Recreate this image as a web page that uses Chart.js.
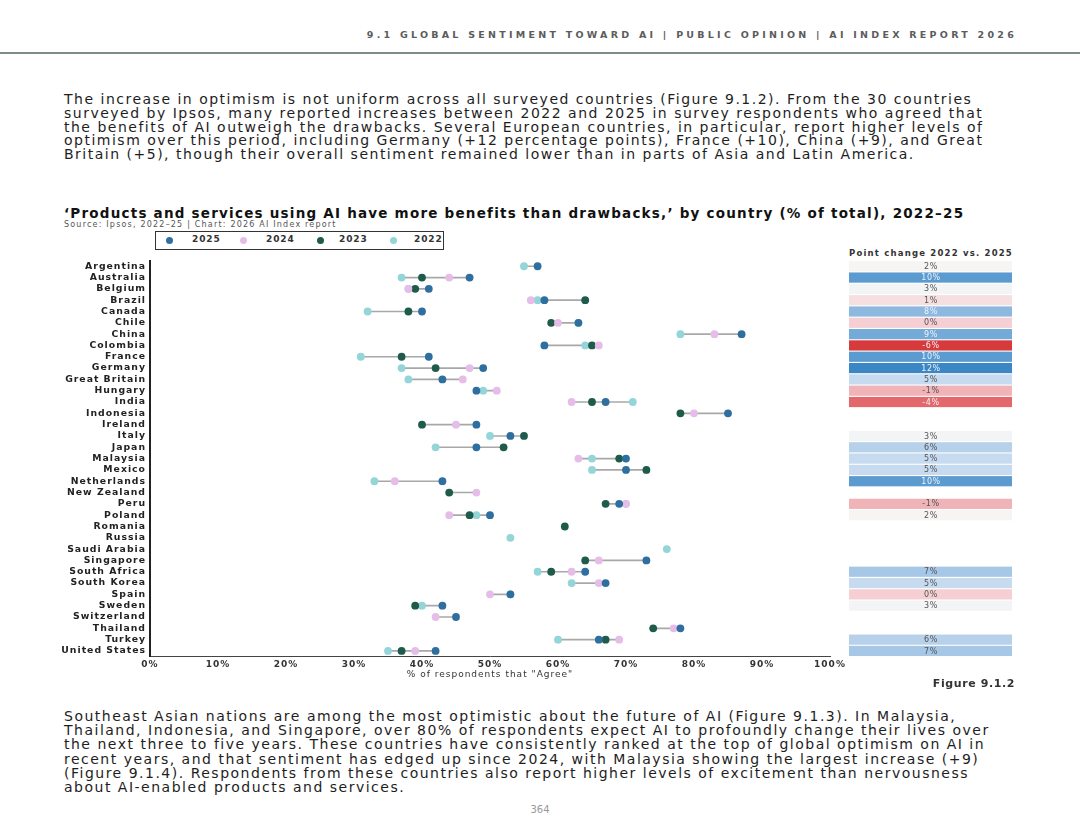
<!DOCTYPE html>
<html>
<head>
<meta charset="utf-8">
<title>AI benefits vs drawbacks by country</title>
<script src="https://cdn.jsdelivr.net/npm/chart.js@4.4.1/dist/chart.umd.min.js"></script>
<style>
body{margin:0;background:#fff;width:1080px;height:831px;position:relative;overflow:hidden;font-family:"DejaVu Sans",sans-serif;color:#222}
.abs{position:absolute;white-space:nowrap}
#header{right:63px;top:29px;font-size:9.5px;font-weight:bold;letter-spacing:3.25px;color:#5c5c5c}
#rule{left:0;top:52px;width:1080px;height:2px;background:#7d8c8a}
.para{left:64px;font-size:14px;line-height:13.75px;letter-spacing:1.5px;color:#1e1e1e}
#title{left:64px;top:205px;font-size:13.5px;font-weight:bold;letter-spacing:1.22px;color:#111}
#source{left:64px;top:220px;font-size:8px;letter-spacing:1.2px;color:#555}
#legend{left:155px;top:231px;width:287px;height:17px;border:1.5px solid #333}
.lg{position:absolute;top:2px;font-size:9px;font-weight:bold;color:#333;letter-spacing:0.9px}
.dot{position:absolute;top:5px;width:7px;height:7px;border-radius:50%}
#tblhead{left:846px;width:170px;top:248px;text-align:center;font-size:8.5px;font-weight:bold;letter-spacing:1.2px;color:#333}
#fig{right:65px;top:677px;font-size:11px;font-weight:bold;color:#333;letter-spacing:0.6px}
#page{left:0;width:1080px;top:804px;text-align:center;font-size:10px;color:#999}
#wrap{position:absolute;left:0;top:251px;width:1080px;height:437px}
</style>
</head>
<body>

<div class="abs" id="header">9.1 GLOBAL SENTIMENT TOWARD AI | PUBLIC OPINION | AI INDEX REPORT 2026</div>
<div class="abs" id="rule"></div>

<div class="abs para" style="top:93px">The increase in optimism is not uniform across all surveyed countries (Figure 9.1.2). From the 30 countries<br>surveyed by Ipsos, many reported increases between 2022 and 2025 in survey respondents who agreed that<br>the benefits of AI outweigh the drawbacks. Several European countries, in particular, report higher levels of<br>optimism over this period, including Germany (+12 percentage points), France (+10), China (+9), and Great<br>Britain (+5), though their overall sentiment remained lower than in parts of Asia and Latin America.</div>

<div class="abs" id="title">‘Products and services using AI have more benefits than drawbacks,’ by country (% of total), 2022–25</div>
<div class="abs" id="source">Source: Ipsos, 2022–25 | Chart: 2026 AI Index report</div>

<div class="abs" id="legend"></div>
<div class="abs" id="tblhead">Point change 2022 vs. 2025</div>

<div id="wrap"><canvas id="chart"></canvas></div>

<div class="abs" id="fig">Figure 9.1.2</div>

<div class="abs para" style="top:709px;line-height:14.2px">Southeast Asian nations are among the most optimistic about the future of AI (Figure 9.1.3). In Malaysia,<br>Thailand, Indonesia, and Singapore, over 80% of respondents expect AI to profoundly change their lives over<br>the next three to five years. These countries have consistently ranked at the top of global optimism on AI in<br>recent years, and that sentiment has edged up since 2024, with Malaysia showing the largest increase (+9)<br>(Figure 9.1.4). Respondents from these countries also report higher levels of excitement than nervousness<br>about AI-enabled products and services.</div>

<div class="abs" id="page">364</div>

<script>
/* =========================
   Data
========================= */

let countries = ["Argentina","Australia","Belgium","Brazil","Canada","Chile","China","Colombia","France","Germany",
"Great Britain","Hungary","India","Indonesia","Ireland","Italy","Japan","Malaysia","Mexico","Netherlands",
"New Zealand","Peru","Poland","Romania","Russia","Saudi Arabia","Singapore","South Africa","South Korea","Spain",
"Sweden","Switzerland","Thailand","Turkey","United States"];

let v2025 = [57,47,41,58,40,63,87,58,41,49,43,48,67,85,48,53,48,70,70,43,null,69,50,null,null,null,73,64,67,53,43,45,78,66,42];
let v2024 = [null,44,38,56,null,60,83,66,null,47,46,51,62,80,45,null,null,63,null,36,48,70,44,null,null,null,66,62,66,50,null,42,77,69,39];
let v2023 = [null,40,39,64,38,59,null,65,37,42,null,null,65,78,40,55,52,69,73,null,44,67,47,61,null,null,64,59,null,null,39,null,74,67,37];
let v2022 = [55,37,38,57,32,63,78,64,31,37,38,49,71,null,null,50,42,65,65,33,null,70,48,null,53,76,null,57,62,53,40,null,null,60,35];

// point change 2022 vs. 2025 (blank rows = null)
let change = [2,10,3,1,8,0,9,-6,10,12,5,-1,-4,null,null,3,6,5,5,10,null,-1,2,null,null,null,null,7,5,0,3,null,null,6,7];

let years = ["2025","2024","2023","2022"];
let yearColors = ["#2f6f9f","#e6bde8","#1e5b4b","#93d5d8"];

/* =========================
   Legend
========================= */

let legendPos = [[10,36],[84,110],[161,183],[234,258]];
let legend = document.getElementById("legend");
years.forEach((y,i)=>{
legend.innerHTML +=
`<div class="dot" style="left:${legendPos[i][0]}px;background:${yearColors[i]}"></div>`+
`<div class="lg" style="left:${legendPos[i][1]}px">${y}</div>`;
});

/* =========================
   Table colours
========================= */

let stops = [
[-6,[214,58,60]],[-4,[228,104,107]],[-1,[240,179,184]],[0,[245,207,211]],[1,[246,223,225]],
[2,[247,244,244]],[3,[242,244,246]],[5,[198,219,239]],[7,[167,199,230]],[8,[141,184,224]],
[10,[91,155,208]],[12,[59,135,197]]
];

function cellColor(v){
for(let i=0;i<stops.length-1;i++){
let a=stops[i], b=stops[i+1];
if(v>=a[0] && v<=b[0]){
let t=(v-a[0])/(b[0]-a[0]);
let c=a[1].map((x,k)=>Math.round(x+(b[1][k]-x)*t));
return `rgb(${c.join(",")})`;
}
}
return "#fff";
}

// wider tracking for axis text, like the report's typeface
let spacingPlugin = {
id:"tracking",
beforeDraw(chart){ chart.ctx.letterSpacing = "1px"; },
beforeDatasetsDraw(chart){ chart.ctx.letterSpacing = "0px"; }
};

let tablePlugin = {
id:"changeTable",
afterDraw(chart){
let ctx = chart.ctx;
let y = chart.scales.y;
ctx.save();
ctx.letterSpacing = "0.6px";
ctx.font = "8px 'DejaVu Sans'";
ctx.textAlign = "center";
ctx.textBaseline = "middle";
change.forEach((v,i)=>{
if(v===null) return;
let yc = y.getPixelForValue(i);
ctx.fillStyle = cellColor(v);
ctx.fillRect(849, yc-5.1, 163, 10.2);
ctx.fillStyle = (v>=8 || v<=-4) ? "#eef3f8" : "#555";
ctx.fillText(v+"%", 931, yc+0.5);
});
ctx.restore();
}
};

/* =========================
   Chart
========================= */

let ranges = countries.map((c,i)=>{
let vals = [v2025[i],v2024[i],v2023[i],v2022[i]].filter(v=>v!==null);
return [Math.min(...vals),Math.max(...vals)];
});

let series = [v2025,v2024,v2023,v2022];

let datasets = series.map((s,i)=>({
type:"line",
label:years[i],
data:s,
showLine:false,
indexAxis:"y",
pointRadius:3.9,
pointHoverRadius:3.9,
pointBorderWidth:0,
pointBackgroundColor:yearColors[i],
backgroundColor:yearColors[i],
order:i
}));

datasets.push({
type:"bar",
label:"range",
data:ranges,
backgroundColor:"#a8a8a8",
barThickness:1,
order:10
});

new Chart(document.getElementById("chart"),{
type:"bar",
data:{labels:countries,datasets:datasets},
plugins:[spacingPlugin,tablePlugin],
options:{
indexAxis:"y",
responsive:true,
maintainAspectRatio:false,
animation:false,
layout:{padding:{left:0,right:250,top:3.3,bottom:0}},
plugins:{legend:{display:false},tooltip:{enabled:false}},
scales:{
x:{
type:"linear",
min:0,max:100,
grid:{display:false,drawTicks:false},
border:{color:"#444",width:1},
ticks:{stepSize:10,padding:3,color:"#333",font:{family:"DejaVu Sans",size:9,weight:"bold"},callback:v=>v+"%"},
title:{display:true,text:"% of respondents that \"Agree\"",color:"#333",font:{family:"DejaVu Sans",size:9},padding:{top:0,bottom:8}},
afterFit(scale){scale.height = 31.4;}
},
y:{
type:"category",
grid:{display:false,drawTicks:false},
border:{color:"#222",width:2},
ticks:{padding:4,color:"#222",autoSkip:false,font:{family:"DejaVu Sans",size:9.3,weight:"bold"}},
afterFit(scale){scale.width = 150;}
}
}
}
});
</script>
</body>
</html>
